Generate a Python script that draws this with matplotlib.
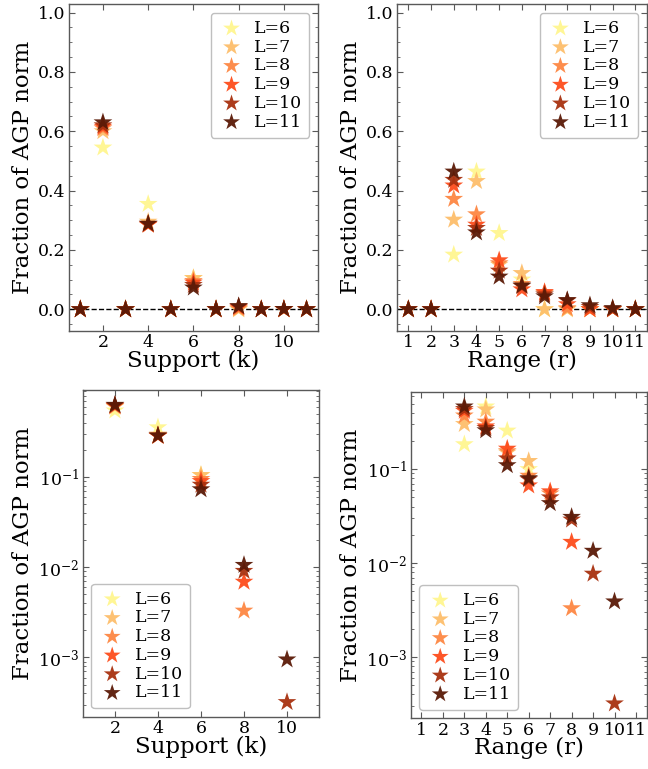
import numpy as np
import matplotlib
matplotlib.use("Agg")
import matplotlib.pyplot as plt
from matplotlib.ticker import AutoMinorLocator

plt.rcParams['font.family'] = ['DejaVu Serif']
plt.rcParams['mathtext.fontset'] = 'cm'

L_values = [6, 7, 8, 9, 10, 11]
colors = ['#fff68f', '#fdbe6b', '#fd8743', '#fd4d1c', '#a8310f', '#5b1a07']

support_k = list(range(1, 12))
support_frac = {
    6:  [0, 0.545, 0, 0.355, 0, 0.105, 0, 0, 0, 0, 0],
    7:  [0, 0.600, 0, 0.295, 0, 0.105, 0, 0, 0, 0, 0],
    8:  [0, 0.610, 0, 0.285, 0, 0.095, 0, 0.0033, 0, 0, 0],
    9:  [0, 0.615, 0, 0.285, 0, 0.090, 0, 0.0069, 0, 0, 0],
    10: [0, 0.620, 0, 0.288, 0, 0.082, 0, 0.0091, 0, 0.00032, 0],
    11: [0, 0.630, 0, 0.288, 0, 0.073, 0, 0.0106, 0, 0.00095, 0],
}

range_r = list(range(1, 12))
range_frac = {
    6:  [0, 0, 0.184, 0.464, 0.257, 0.100, 0, 0, 0, 0, 0],
    7:  [0, 0, 0.302, 0.432, 0.150, 0.122, 0, 0, 0, 0, 0],
    8:  [0, 0, 0.372, 0.320, 0.155, 0.085, 0.055, 0.0033, 0, 0, 0],
    9:  [0, 0, 0.417, 0.285, 0.165, 0.067, 0.058, 0.0168, 0, 0, 0],
    10: [0, 0, 0.436, 0.274, 0.130, 0.078, 0.050, 0.029, 0.0077, 0.00032, 0],
    11: [0, 0, 0.464, 0.259, 0.110, 0.080, 0.0434, 0.031, 0.0135, 0.0039, 0],
}

fig = plt.figure(figsize=(6.48, 7.69), dpi=100)
ax1 = fig.add_axes([0.1065, 0.5696, 0.384, 0.4248])
ax2 = fig.add_axes([0.6127, 0.5696, 0.3853, 0.4248])
ax3 = fig.add_axes([0.1276, 0.0676, 0.3651, 0.4252])
ax4 = fig.add_axes([0.6338, 0.0659, 0.3642, 0.4247])

S = 200

def style(ax, log=False):
    ax.tick_params(which='both', direction='in', top=True, right=True,
                   labelsize=12.5, color='0.35', pad=2.5)
    ax.tick_params(which='major', length=4, width=0.8)
    ax.tick_params(which='minor', length=2, width=0.6)
    for sp in ax.spines.values():
        sp.set_color('0.35')
        sp.set_linewidth(1.0)
    if not log:
        ax.yaxis.set_minor_locator(AutoMinorLocator())

def draw(ax, xs, data, log, xlabel, xticks, loc):
    for L, c in zip(L_values, colors):
        y = np.array(data[L], dtype=float)
        if log:
            y = np.where(y > 0, y, np.nan)
        ax.scatter(xs, y, marker='*', s=S, color=c, alpha=0.95,
                   edgecolors='none', label=f'L={L}', zorder=3)
    if log:
        ax.set_yscale('log')
    else:
        ax.axhline(0, color='black', ls='--', lw=1.0, zorder=2)
        ax.set_ylim(-0.073, 1.028)
        ax.set_yticks(np.arange(0, 1.01, 0.2))
    ax.set_xlim(0.5, 11.5)
    ax.set_xticks(xticks)
    ax.set_xlabel(xlabel, fontsize=16.5, labelpad=-1)
    ax.set_ylabel('Fraction of AGP norm', fontsize=16.5, labelpad=3)
    style(ax, log)
    ax.legend(loc=loc, fontsize=12.5, scatterpoints=1, labelspacing=0.1,
              handlelength=1.6, handletextpad=0.5,
              markerscale=0.9, edgecolor='0.75', framealpha=1.0)

draw(ax1, support_k, support_frac, False, 'Support (k)', [2, 4, 6, 8, 10], 'upper right')
draw(ax2, range_r, range_frac, False, 'Range (r)', range_r, 'upper right')
draw(ax3, support_k, support_frac, True, 'Support (k)', [2, 4, 6, 8, 10], 'lower left')
draw(ax4, range_r, range_frac, True, 'Range (r)', range_r, 'lower left')

fig.savefig('out.png', dpi=100)
